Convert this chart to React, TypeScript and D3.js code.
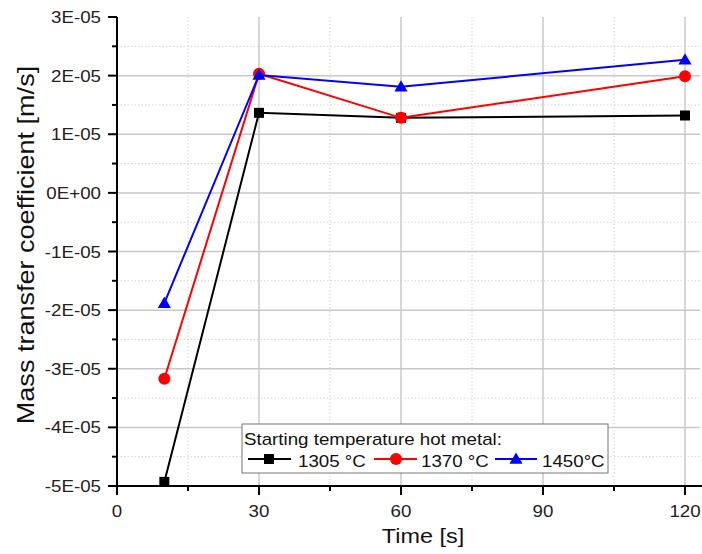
import React from "react";
import * as d3 from "d3";

const times = [10, 30, 60, 120];
const series1305 = [-4.93e-5, 1.365e-5, 1.28e-5, 1.32e-5];
const series1370 = [-3.17e-5, 2.03e-5, 1.28e-5, 1.99e-5];
const series1450 = [-1.88e-5, 2.01e-5, 1.81e-5, 2.27e-5];
const seriesNames = ["1305 °C", "1370 °C", "1450°C"];
const seriesColors = ["#000000", "#ff0000", "#0000ff"];
const seriesMarkers = ["square", "circle", "triangle"];
const xTickValues = [0, 30, 60, 90, 120];
const xMinorValues = [15, 45, 75, 105];
const yTickValues = [-5e-5, -4e-5, -3e-5, -2e-5, -1e-5, 0, 1e-5, 2e-5, 3e-5];
const yTickLabels = ["-5E-05", "-4E-05", "-3E-05", "-2E-05", "-1E-05", "0E+00", "1E-05", "2E-05", "3E-05"];
const yMinorValues = [-4.5e-5, -3.5e-5, -2.5e-5, -1.5e-5, -0.5e-5, 0.5e-5, 1.5e-5, 2.5e-5];
const legendTitle = "Starting temperature hot metal:";
const xTitle = "Time [s]";
const yTitle = "Mass transfer coefficient [m/s]";

const FONT = "'Liberation Sans', Arial, sans-serif";
const SX = 1.17;

function Marker({ type, x, y, color }: { type: string; x: number; y: number; color: string }) {
  if (type === "square") return <rect x={x - 5} y={y - 5} width={10} height={10} fill={color} />;
  if (type === "circle") return <circle cx={x} cy={y} r={6} fill={color} />;
  const sym = d3.symbol().type(d3.symbolTriangle).size(75)();
  return <path d={sym || ""} transform={`translate(${x},${y + 1})`} fill={color} />;
}

export default function App() {
  const left = 117, right = 700, top = 17, bottom = 486;
  const x = d3.scaleLinear().domain([0, 120]).range([117, 685]);
  const y = d3.scaleLinear().domain([-5e-5, 3e-5]).range([bottom, top]);
  const allSeries = [series1305, series1370, series1450];
  const line = d3.line<number>().x((_, i) => x(times[i])).y((d) => y(d));

  const legendItems = [
    { lx1: 248, lx2: 291, mx: 269, tx: 298 },
    { lx1: 374, lx2: 417, mx: 396, tx: 421 },
    { lx1: 495, lx2: 537, mx: 516, tx: 542 },
  ];

  return (
    <svg width={702} height={554} style={{ position: "absolute", left: 0, top: 0, background: "#fff" }}>
      <rect x={0} y={0} width={702} height={554} fill="#fff" />
      {/* minor grid */}
      {xMinorValues.map((v) => (
        <line key={"xm" + v} x1={x(v)} x2={x(v)} y1={top} y2={bottom} stroke="#d4d4d4" strokeWidth={1} strokeDasharray="1.5,2" />
      ))}
      {yMinorValues.map((v) => (
        <line key={"ym" + v} x1={left} x2={right} y1={y(v)} y2={y(v)} stroke="#d4d4d4" strokeWidth={1} strokeDasharray="1.5,2" />
      ))}
      {/* major grid */}
      {xTickValues.filter((v) => v > 0).map((v) => (
        <line key={"xg" + v} x1={x(v)} x2={x(v)} y1={top} y2={bottom} stroke="#c8c8c8" strokeWidth={1.5} />
      ))}
      {yTickValues.filter((v) => v > -5e-5 && v < 3e-5).map((v) => (
        <line key={"yg" + v} x1={left} x2={right} y1={y(v)} y2={y(v)} stroke="#c8c8c8" strokeWidth={1.5} />
      ))}
      {/* axes */}
      <line x1={left} x2={left} y1={top} y2={bottom + 1} stroke="#000" strokeWidth={2} />
      <line x1={left - 1} x2={702} y1={bottom} y2={bottom} stroke="#000" strokeWidth={2} />
      {yTickValues.map((v, i) => (
        <g key={"yt" + v}>
          <line x1={left - 9} x2={left} y1={y(v)} y2={y(v)} stroke="#000" strokeWidth={2} />
          <text transform={`translate(101,${y(v) + 6}) scale(${SX},1)`} textAnchor="end" fontFamily={FONT} fontSize={16} fill="#222">
            {yTickLabels[i]}
          </text>
        </g>
      ))}
      {yMinorValues.map((v) => (
        <line key={"ymt" + v} x1={left - 5} x2={left} y1={y(v)} y2={y(v)} stroke="#000" strokeWidth={2} />
      ))}
      {xTickValues.map((v) => (
        <g key={"xt" + v}>
          <line x1={x(v)} x2={x(v)} y1={bottom} y2={bottom + 9} stroke="#000" strokeWidth={2} />
          <text transform={`translate(${x(v)},517) scale(${SX},1)`} textAnchor="middle" fontFamily={FONT} fontSize={16} fill="#222">
            {v}
          </text>
        </g>
      ))}
      {xMinorValues.map((v) => (
        <line key={"xmt" + v} x1={x(v)} x2={x(v)} y1={bottom} y2={bottom + 5} stroke="#000" strokeWidth={2} />
      ))}
      {/* titles */}
      <text transform={`translate(423,543) scale(${SX},1)`} textAnchor="middle" fontFamily={FONT} fontSize={20} fill="#111">
        {xTitle}
      </text>
      <text transform={`translate(34,245) rotate(-90) scale(1.15,1)`} textAnchor="middle" fontFamily={FONT} fontSize={23.5} fill="#111">
        {yTitle}
      </text>
      {/* series */}
      {allSeries.map((s, si) => (
        <g key={"s" + si}>
          <path d={line(s) || ""} fill="none" stroke={seriesColors[si]} strokeWidth={2} />
          {s.map((v, i) => (
            <Marker key={i} type={seriesMarkers[si]} x={x(times[i])} y={y(v)} color={seriesColors[si]} />
          ))}
        </g>
      ))}
      {/* legend */}
      <rect x={242} y={424} width={366} height={49} fill="#fff" stroke="#777" strokeWidth={1} />
      <text transform={`translate(244,445) scale(${SX},1)`} fontFamily={FONT} fontSize={16} fill="#111">
        {legendTitle}
      </text>
      {legendItems.map((it, i) => (
        <g key={"l" + i}>
          <line x1={it.lx1} x2={it.lx2} y1={459} y2={459} stroke={seriesColors[i]} strokeWidth={2} />
          <Marker type={seriesMarkers[i]} x={it.mx} y={459} color={seriesColors[i]} />
          <text transform={`translate(${it.tx},467) scale(${SX},1)`} fontFamily={FONT} fontSize={16} fill="#111">
            {seriesNames[i]}
          </text>
        </g>
      ))}
    </svg>
  );
}
